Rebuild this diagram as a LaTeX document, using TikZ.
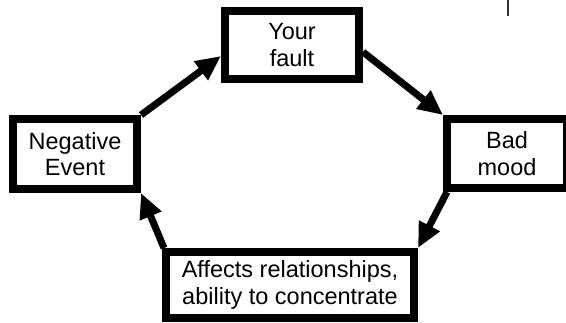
\documentclass[tikz,border=0pt]{standalone}
\usepackage{fontspec}
\setmainfont{Liberation Sans}
\usetikzlibrary{calc, arrows.meta}

\begin{document}
\begin{tikzpicture}[x=1pt, y=1pt,
    box/.style={draw, line width=8pt, inner sep=0pt, align=center,
        font=\fontsize{23.5}{26.5}\selectfont},
    flow/.style={line width=7pt, -{Triangle[length=25pt, width=22pt]}}]
    \useasboundingbox (0,0) rectangle (566,-322);
    % the four steps of the cycle
    \node[box, minimum width=124, minimum height=70] (neg) at (75,-154) {Negative\\Event};
    \node[box, minimum width=134, minimum height=68] (fault) at (292,-45) {Your\\fault};
    \node[box, minimum width=120, minimum height=69] (mood) at (507,-153.5) {Bad\\mood};
    \node[box, minimum width=248, minimum height=66] (affects) at (290,-285) {Affects relationships,\\ability to concentrate};
    % arrows round the cycle
    \draw[flow] (neg.north east) -- ($(fault.west)+(0,-11)$);
    \draw[flow] ($(fault.east)+(0,-7)$) -- (mood.north west);
    \draw[flow] ($(mood.south west)+(4,0)$) -- (affects.north east);
    \draw[flow] ($(affects.north west)+(2,0)$) -- (neg.south east);
    % stray mark at the top edge
    \draw[line width=1.5pt, black!80] (508,0) -- (508,-16);
\end{tikzpicture}
\end{document}
